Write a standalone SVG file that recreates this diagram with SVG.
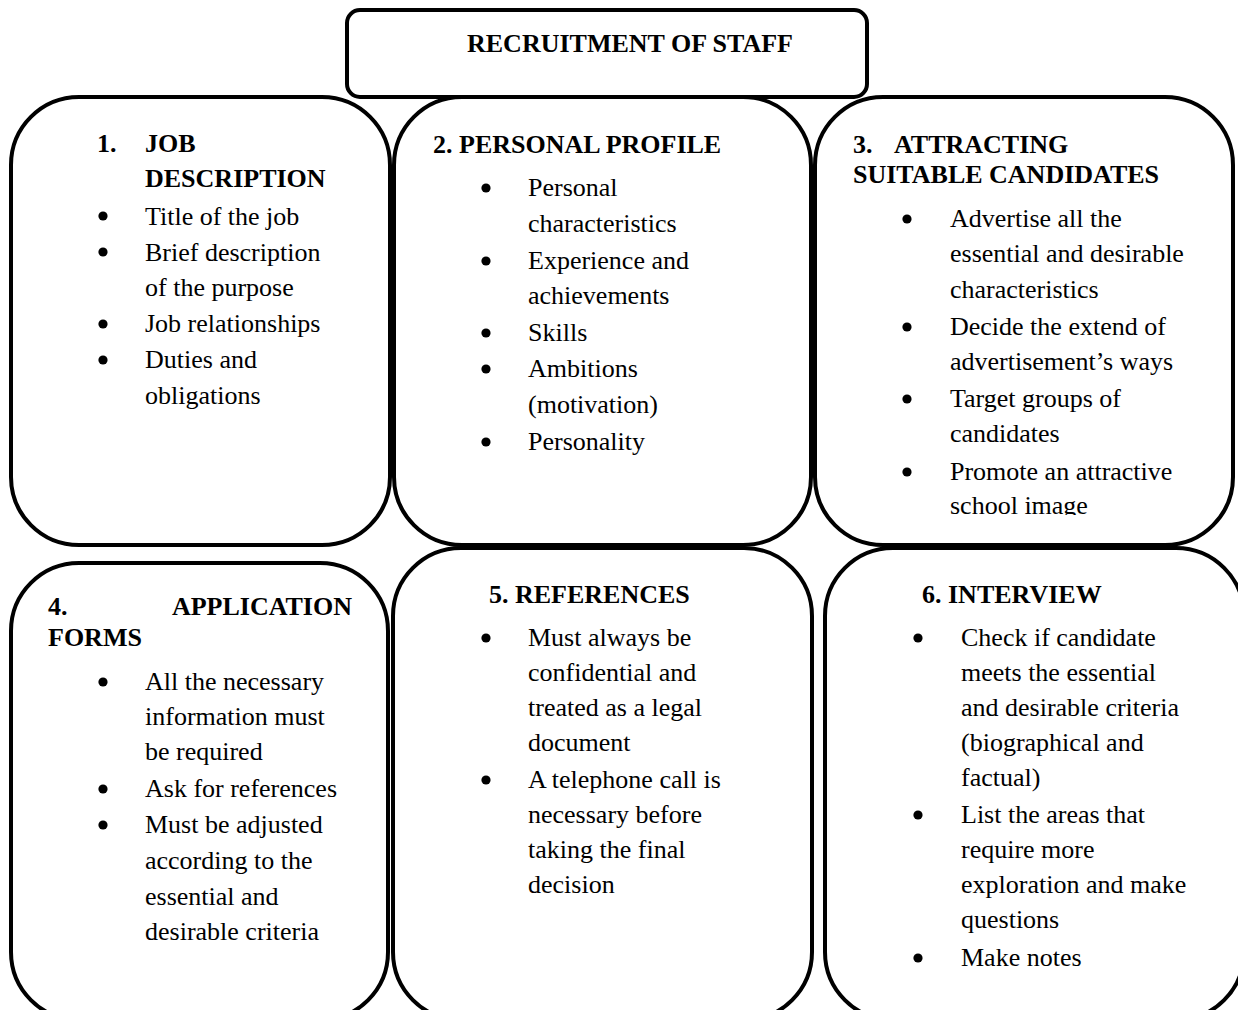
<svg xmlns="http://www.w3.org/2000/svg" xmlns:xlink="http://www.w3.org/1999/xlink" width="1238" height="1010" viewBox="0 0 1238 1010">
  <style>
    .box { fill: #ffffff; stroke: #000000; stroke-width: 4; }
    .t { font-family: "Liberation Serif", "Times New Roman", serif; font-size: 26px; fill: #000000; }
    .h { font-family: "Liberation Serif", "Times New Roman", serif; font-size: 26px; font-weight: bold; fill: #000000; }
  </style>
  <defs>
    <circle id="dot" r="4.6" fill="#000000"/>
    <clipPath id="clip3">
      <rect x="815" y="97" width="418" height="418"/>
    </clipPath>
  </defs>

  <rect width="1238" height="1010" fill="#ffffff"/>

  <!-- 1. Job description -->
  <g id="job-description">
    <rect class="box" x="11" y="97" width="379" height="448" rx="68" ry="68"/>
    <text class="h" x="97" y="152">1.</text>
    <text class="h" x="145" y="152">JOB</text>
    <text class="h" x="145" y="187">DESCRIPTION</text>
    <use xlink:href="#dot" x="103" y="216"/>
    <text class="t" x="145" y="225">Title of the job</text>
    <use xlink:href="#dot" x="103" y="252"/>
    <text class="t" x="145" y="261">Brief description</text>
    <text class="t" x="145" y="296">of the purpose</text>
    <use xlink:href="#dot" x="103" y="324"/>
    <text class="t" x="145" y="332">Job relationships</text>
    <use xlink:href="#dot" x="103" y="360"/>
    <text class="t" x="145" y="368">Duties and</text>
    <text class="t" x="145" y="404">obligations</text>
  </g>

  <!-- 2. Personal profile -->
  <g id="personal-profile">
    <rect class="box" x="394" y="97" width="417" height="448" rx="68" ry="68"/>
    <text class="h" x="433" y="153">2. PERSONAL PROFILE</text>
    <use xlink:href="#dot" x="486" y="188"/>
    <text class="t" x="528" y="196">Personal</text>
    <text class="t" x="528" y="232">characteristics</text>
    <use xlink:href="#dot" x="486" y="261"/>
    <text class="t" x="528" y="269">Experience and</text>
    <text class="t" x="528" y="304">achievements</text>
    <use xlink:href="#dot" x="486" y="333"/>
    <text class="t" x="528" y="341">Skills</text>
    <use xlink:href="#dot" x="486" y="369"/>
    <text class="t" x="528" y="377">Ambitions</text>
    <text class="t" x="528" y="413">(motivation)</text>
    <use xlink:href="#dot" x="486" y="442"/>
    <text class="t" x="528" y="450">Personality</text>
  </g>

  <!-- 3. Attracting suitable candidates -->
  <g id="attracting-candidates">
    <rect class="box" x="815" y="97" width="418" height="448" rx="68" ry="68"/>
    <text class="h" x="853" y="153">3.</text>
    <text class="h" x="894" y="153">ATTRACTING</text>
    <text class="h" x="853" y="183">SUITABLE CANDIDATES</text>
    <g clip-path="url(#clip3)">
      <use xlink:href="#dot" x="907" y="219"/>
      <text class="t" x="950" y="227">Advertise all the</text>
      <text class="t" x="950" y="262">essential and desirable</text>
      <text class="t" x="950" y="298">characteristics</text>
      <use xlink:href="#dot" x="907" y="327"/>
      <text class="t" x="950" y="335">Decide the extend of</text>
      <text class="t" x="950" y="370">advertisement’s ways</text>
      <use xlink:href="#dot" x="907" y="399"/>
      <text class="t" x="950" y="407">Target groups of</text>
      <text class="t" x="950" y="442">candidates</text>
      <use xlink:href="#dot" x="907" y="472"/>
      <text class="t" x="950" y="480">Promote an attractive</text>
      <text class="t" x="950" y="514">school image</text>
    </g>
  </g>

  <!-- 4. Application forms -->
  <g id="application-forms">
    <rect class="box" x="11" y="563" width="377" height="457" rx="68" ry="68"/>
    <text class="h" x="48" y="615">4.</text>
    <text class="h" x="352" y="615" text-anchor="end">APPLICATION</text>
    <text class="h" x="48" y="646">FORMS</text>
    <use xlink:href="#dot" x="103" y="682"/>
    <text class="t" x="145" y="690">All the necessary</text>
    <text class="t" x="145" y="725">information must</text>
    <text class="t" x="145" y="760">be required</text>
    <use xlink:href="#dot" x="103" y="789"/>
    <text class="t" x="145" y="797">Ask for references</text>
    <use xlink:href="#dot" x="103" y="825"/>
    <text class="t" x="145" y="833">Must be adjusted</text>
    <text class="t" x="145" y="869">according to the</text>
    <text class="t" x="145" y="905">essential and</text>
    <text class="t" x="145" y="940">desirable criteria</text>
  </g>

  <!-- 5. References -->
  <g id="references">
    <rect class="box" x="393" y="548" width="419" height="472" rx="68" ry="68"/>
    <text class="h" x="489" y="603">5. REFERENCES</text>
    <use xlink:href="#dot" x="486" y="638"/>
    <text class="t" x="528" y="646">Must always be</text>
    <text class="t" x="528" y="681">confidential and</text>
    <text class="t" x="528" y="716">treated as a legal</text>
    <text class="t" x="528" y="751">document</text>
    <use xlink:href="#dot" x="486" y="780"/>
    <text class="t" x="528" y="788">A telephone call is</text>
    <text class="t" x="528" y="823">necessary before</text>
    <text class="t" x="528" y="858">taking the final</text>
    <text class="t" x="528" y="893">decision</text>
  </g>

  <!-- 6. Interview -->
  <g id="interview">
    <rect class="box" x="825" y="548" width="419" height="472" rx="68" ry="68"/>
    <text class="h" x="922" y="603">6. INTERVIEW</text>
    <use xlink:href="#dot" x="918" y="638"/>
    <text class="t" x="961" y="646">Check if candidate</text>
    <text class="t" x="961" y="681">meets the essential</text>
    <text class="t" x="961" y="716">and desirable criteria</text>
    <text class="t" x="961" y="751">(biographical and</text>
    <text class="t" x="961" y="786">factual)</text>
    <use xlink:href="#dot" x="918" y="815"/>
    <text class="t" x="961" y="823">List the areas that</text>
    <text class="t" x="961" y="858">require more</text>
    <text class="t" x="961" y="893">exploration and make</text>
    <text class="t" x="961" y="928">questions</text>
    <use xlink:href="#dot" x="918" y="958"/>
    <text class="t" x="961" y="966">Make notes</text>
  </g>

  <!-- Title -->
  <g id="recruitment-of-staff">
    <rect class="box" x="347" y="10" width="520" height="87" rx="13" ry="13"/>
    <text class="h" x="467" y="52">RECRUITMENT OF STAFF</text>
  </g>
</svg>
